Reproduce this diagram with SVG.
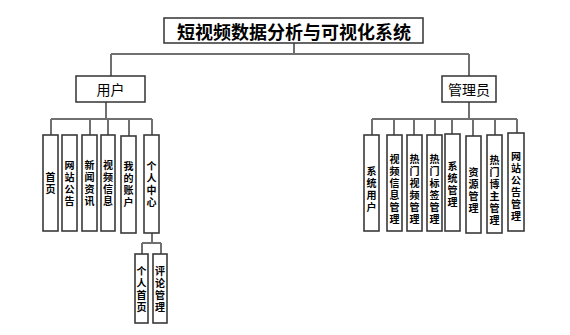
<svg xmlns="http://www.w3.org/2000/svg" width="570" height="335" viewBox="0 0 570 335">
<style>
.box{fill:#fff;stroke:#333;stroke-width:1.5}
.cbox{fill:#fff;stroke:#3a3a3a;stroke-width:1.6}
.ln{fill:none;stroke:#707070;stroke-width:2}
.t{font-family:"Noto Sans CJK SC","Noto Sans",sans-serif;fill:#000}
.title{font-size:18px;font-weight:bold}
.mid{font-size:14px}
.v{font-size:10px;font-weight:bold;writing-mode:vertical-rl;text-orientation:upright;letter-spacing:2px;text-anchor:middle}
</style>
<rect width="570" height="335" fill="#fff"/>
<g id="connectors">
<path class="ln" d="M294,43V54M111,54H469M111,54V76M469,54V76"/>
<path class="ln" d="M106,102V119M51,119H152M51,119V135M90,119V135M108,119V135M129,119V136M152,119V135"/>
<path class="ln" d="M152,233V243M142,243H161M142,243V254M161,243V254"/>
<path class="ln" d="M469,102V119M372,119H517M372,119V135M394,119V135M414,119V135M435,119V135M452,119V134M473,119V136M495,119V135M517,119V133"/>
</g>
<g id="title"><rect class="box" x="164" y="18" width="259" height="25"/><text class="t title" x="294" y="31" text-anchor="middle" dominant-baseline="central">短视频数据分析与可视化系统</text></g>
<g id="user"><rect class="box" x="76" y="76" width="69" height="26"/><text class="t mid" x="110.5" y="89" text-anchor="middle" dominant-baseline="central">用户</text></g>
<g id="admin"><rect class="box" x="442" y="76" width="54" height="26"/><text class="t mid" x="469" y="89" text-anchor="middle" dominant-baseline="central">管理员</text></g>
<g id="u1"><rect class="cbox" x="43" y="135" width="15" height="96"/><text class="t v" x="50.5" y="184">首页</text></g>
<g id="u2"><rect class="cbox" x="62" y="135" width="15" height="96"/><text class="t v" x="69.5" y="184">网站公告</text></g>
<g id="u3"><rect class="cbox" x="82" y="135" width="15" height="96"/><text class="t v" x="89.5" y="184">新闻资讯</text></g>
<g id="u4"><rect class="cbox" x="101" y="135" width="14" height="96"/><text class="t v" x="108" y="184">视频信息</text></g>
<g id="u5"><rect class="cbox" x="121" y="136" width="15" height="97"/><text class="t v" x="128.5" y="185">我的账户</text></g>
<g id="u6"><rect class="cbox" x="144" y="135" width="15" height="98"/><text class="t v" x="151.5" y="185">个人中心</text></g>
<g id="u6a"><rect class="cbox" x="135" y="254" width="13" height="69"/><text class="t v" x="141.5" y="290">个人首页</text></g>
<g id="u6b"><rect class="cbox" x="153" y="254" width="14" height="69"/><text class="t v" x="160" y="290">评论管理</text></g>
<g id="a1"><rect class="cbox" x="364" y="135" width="15" height="96"/><text class="t v" x="371.5" y="190">系统用户</text></g>
<g id="a2"><rect class="cbox" x="387" y="135" width="15" height="96"/><text class="t v" x="394.5" y="190">视频信息管理</text></g>
<g id="a3"><rect class="cbox" x="407" y="135" width="15" height="96"/><text class="t v" x="414.5" y="190">热门视频管理</text></g>
<g id="a4"><rect class="cbox" x="427" y="135" width="15" height="96"/><text class="t v" x="434.5" y="190">热门标签管理</text></g>
<g id="a5"><rect class="cbox" x="445" y="134" width="15" height="97"/><text class="t v" x="452.5" y="185">系统管理</text></g>
<g id="a6"><rect class="cbox" x="466" y="136" width="15" height="97"/><text class="t v" x="473.5" y="191">资源管理</text></g>
<g id="a7"><rect class="cbox" x="487" y="135" width="15" height="98"/><text class="t v" x="494.5" y="191">热门博主管理</text></g>
<g id="a8"><rect class="cbox" x="508" y="133" width="16" height="98"/><text class="t v" x="516" y="187">网站公告管理</text></g>
</svg>
